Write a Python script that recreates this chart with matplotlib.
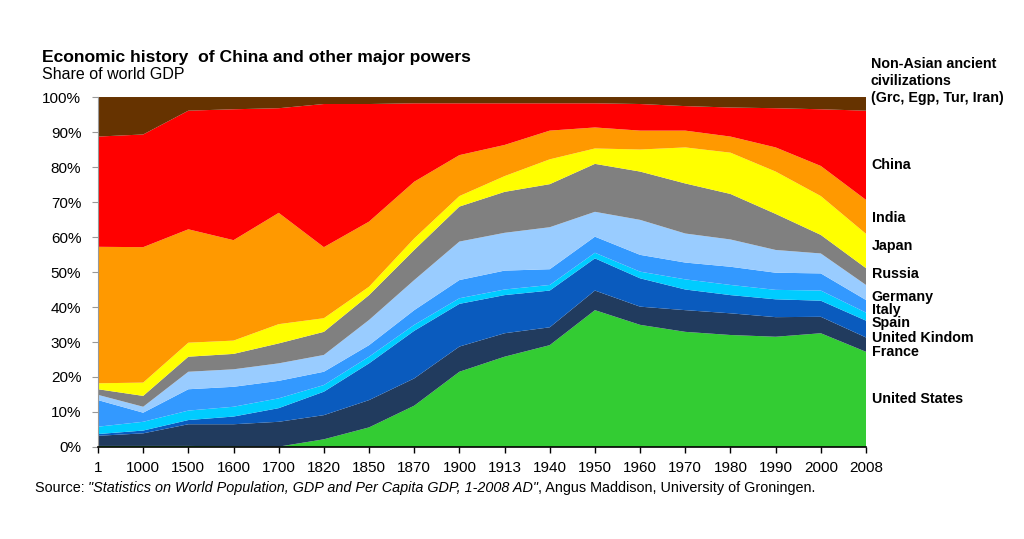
import matplotlib
matplotlib.use("Agg")
import matplotlib.pyplot as plt
import numpy as np

plt.rcParams['font.family'] = ['Liberation Sans', 'DejaVu Sans']

years = ['1', '1000', '1500', '1600', '1700', '1820', '1850', '1870', '1900', '1913',
         '1940', '1950', '1960', '1970', '1980', '1990', '2000', '2008']

# share of world GDP (%), bottom layer first
us = [0.3, 0.3, 0.3, 0.2, 0.1, 2.2, 5.6, 11.8, 21.5, 25.8, 29.1, 39.1, 34.9, 32.9, 32.0, 31.5, 32.5, 27.2]
france = [2.9, 3.6, 6.2, 6.3, 7.1, 6.9, 7.8, 7.8, 7.2, 6.7, 5.1, 5.6, 5.2, 6.2, 6.2, 5.6, 4.7, 4.1]
uk = [0.5, 0.8, 1.2, 2.2, 3.9, 6.7, 10.5, 13.6, 12.2, 10.9, 10.5, 9.2, 8.1, 5.9, 5.2, 5.1, 4.6, 4.8]
spain = [2.1, 2.5, 2.7, 2.8, 2.8, 1.9, 1.9, 1.7, 1.6, 1.6, 1.6, 1.6, 1.9, 2.9, 2.9, 2.7, 2.9, 2.3]
italy = [7.6, 2.6, 6.1, 5.7, 5.0, 3.8, 3.3, 4.2, 5.2, 5.4, 4.5, 4.6, 4.8, 4.8, 5.2, 4.9, 4.9, 3.6]
germany = [1.5, 1.7, 5.0, 5.0, 5.0, 4.8, 7.2, 8.6, 11.0, 10.8, 12.0, 7.1, 10.0, 8.3, 7.8, 6.5, 5.7, 4.3]
russia = [1.6, 3.1, 4.3, 4.4, 5.7, 6.6, 7.1, 8.6, 10.0, 11.7, 12.3, 13.7, 13.8, 14.3, 13.0, 10.3, 5.3, 4.8]
japan = [1.7, 3.8, 4.0, 3.8, 5.5, 3.9, 2.4, 3.3, 3.0, 4.5, 7.1, 4.4, 6.3, 10.3, 11.8, 12.1, 11.1, 9.8]
india = [39.0, 38.7, 32.4, 28.7, 31.8, 20.3, 18.6, 16.2, 11.7, 8.9, 8.2, 6.0, 5.4, 4.8, 4.6, 6.9, 8.6, 9.7]
china = [31.5, 32.2, 33.9, 37.4, 29.9, 40.9, 33.6, 22.4, 14.8, 11.9, 7.8, 6.9, 7.6, 7.0, 8.3, 11.2, 16.2, 25.5]
ancient = [11.3, 10.7, 3.9, 3.5, 3.2, 2.0, 2.0, 1.8, 1.8, 1.8, 1.8, 1.8, 2.0, 2.6, 3.0, 3.2, 3.5, 3.9]

series = [us, france, uk, spain, italy, germany, russia, japan, india, china, ancient]
colors = ['#33CC33', '#213B5E', '#0A5BBE', '#00CCFF', '#3399FF', '#99CCFF',
          '#808080', '#FFFF00', '#FF9900', '#FF0000', '#663300']

labels = ['United States', 'France', 'United Kindom', 'Spain', 'Italy', 'Germany',
          'Russia', 'Japan', 'India', 'China']
label_y = [13.7, 27.1, 31.1, 35.4, 39.1, 42.9, 49.4, 57.4, 65.4, 80.6]

fig = plt.figure(figsize=(10.24, 5.39), dpi=100)
ax = fig.add_axes([0.0957, 0.1707, 0.75, 0.6493])

x = np.arange(len(years))
ax.stackplot(x, *series, colors=colors, linewidth=0)

ax.set_xlim(0, len(years) - 1)
ax.set_ylim(0, 100)
ax.set_xticks(x)
ax.set_xticklabels(years, fontsize=11)
ax.set_yticks(np.arange(0, 101, 10))
ax.set_yticklabels(['%d%%' % v for v in range(0, 101, 10)], fontsize=11)
ax.tick_params(axis='x', length=4, width=1, color='black', pad=6)
ax.tick_params(axis='y', length=4, width=0.8, color='#999999', pad=8)
for s in ['top', 'right']:
    ax.spines[s].set_visible(False)
ax.spines['left'].set_color('#999999')
ax.spines['bottom'].set_color('black')
ax.spines['bottom'].set_linewidth(1.2)

for lab, yy in zip(labels, label_y):
    ax.text(17.13, yy, lab, fontsize=10.3, fontweight='bold', va='center', ha='left', clip_on=False)
ax.text(17.1, 111.3, 'Non-Asian ancient\ncivilizations\n(Grc, Egp, Tur, Iran)',
        fontsize=10.3, fontweight='bold', va='top', ha='left', linespacing=1.25, clip_on=False)

fig.text(0.041, 0.894, 'Economic history  of China and other major powers',
         fontsize=12.6, fontweight='bold', va='center')
fig.text(0.041, 0.861, 'Share of world GDP', fontsize=11.5, va='center')

# source line, mixed italic
fig.canvas.draw()
r = fig.canvas.get_renderer()
parts = [('Source: ', 'normal'),
         ('"Statistics on World Population, GDP and Per Capita GDP, 1-2008 AD"', 'italic'),
         (', Angus Maddison, University of Groningen.', 'normal')]
xpos = 0.034 * 1024
for txt, st in parts:
    t = fig.text(xpos / 1024, 0.095, txt, fontsize=10.4, style=st, va='center')
    xpos += t.get_window_extent(r).width

fig.savefig('out.png', dpi=100)
